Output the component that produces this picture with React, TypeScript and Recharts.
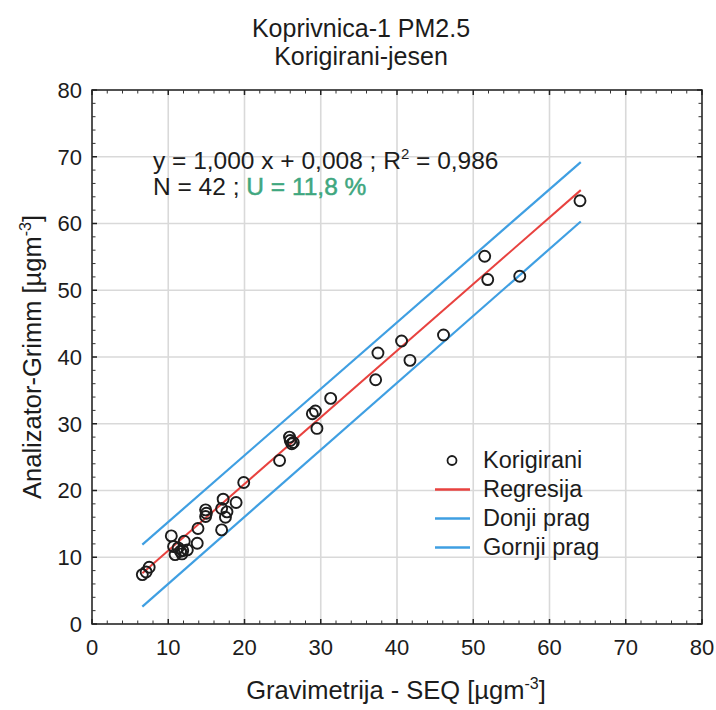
import React from 'react';
import {
  ComposedChart,
  Scatter,
  Line,
  XAxis,
  YAxis,
  CartesianGrid,
  ReferenceLine,
  ReferenceArea,
  Legend,
  Customized,
} from 'recharts';

// ---------- data ----------
const chartTitle = ['Koprivnica-1 PM2.5', 'Korigirani-jesen'];
const xAxisTitle = 'Gravimetrija - SEQ [µgm';
const yAxisTitle = 'Analizator-Grimm [µgm';
const unitExp = '-3';

const xTicks = [0, 10, 20, 30, 40, 50, 60, 70, 80];
const yTicks = [0, 10, 20, 30, 40, 50, 60, 70, 80];
const minorTicks = [2, 4, 6, 8, 12, 14, 16, 18, 22, 24, 26, 28, 32, 34, 36, 38, 42, 44, 46, 48, 52, 54, 56, 58, 62, 64, 66, 68, 72, 74, 76, 78];

const gravX = [64.0, 51.5, 51.9, 56.1, 46.1, 40.6, 37.5, 41.7, 37.2, 31.3, 28.9, 29.3, 29.5, 25.9, 26.0, 26.4, 26.2, 24.6, 19.9, 17.2, 18.9, 17.0, 17.7, 17.5, 17.0, 14.9, 15.0, 14.9, 13.9, 13.8, 10.4, 10.7, 12.1, 11.3, 10.9, 11.8, 12.5, 11.9, 11.6, 7.5, 6.6, 7.1];
const grimmY = [63.4, 55.1, 51.6, 52.1, 43.3, 42.4, 40.6, 39.5, 36.6, 33.8, 31.5, 31.9, 29.3, 28.0, 27.5, 27.2, 27.0, 24.5, 21.2, 18.7, 18.2, 17.3, 16.8, 16.0, 14.1, 17.1, 16.6, 16.1, 14.3, 12.1, 13.2, 11.6, 12.4, 11.4, 10.4, 10.5, 11.1, 11.0, 10.9, 8.5, 7.4, 7.8];

const lineX = [6.6, 64.1];
const regresijaY = [7.6, 65.0];
const donjiY = [2.6, 60.3];
const gornjiY = [11.9, 69.2];

const legendNames = ['Korigirani', 'Regresija', 'Donji prag', 'Gornji prag'];
const eqLine1 = 'y = 1,000 x + 0,008 ; R';
const eqLine1b = ' = 0,986';
const eqLine2a = 'N = 42 ; ';
const eqLine2b = 'U = 11,8 %';

// ---------- derived tables ----------
const points = gravX.map((x, i) => ({ x, y: grimmY[i] }));
const regData = lineX.map((x, i) => ({ x, reg: regresijaY[i] }));
const donjiData = lineX.map((x, i) => ({ x, donji: donjiY[i] }));
const gornjiData = lineX.map((x, i) => ({ x, gornji: gornjiY[i] }));

// ---------- styles ----------
const FONT = '"Liberation Sans", Arial, Helvetica, sans-serif';
const TEXT = '#1c1c1c';
const RED = '#e8423f';
const BLUE = '#3f9fe2';
const GRID = '#d9d9d9';
const W = 716;
const H = 710;
const Y_AXIS_W = 40;
const X_AXIS_H = 30;
const MARGIN = { top: 90, right: 14, bottom: 56, left: 52 };
const X_PX = (W - MARGIN.left - Y_AXIS_W - MARGIN.right) / 80;
const Y_PX = (H - MARGIN.top - MARGIN.bottom - X_AXIS_H) / 80;

const legendLineColors = ['', RED, BLUE, BLUE];

const renderLegend = () => (
  <div style={{ fontFamily: FONT, fontSize: 23.5, color: TEXT }}>
    {legendNames.map((name, i) => (
      <div key={name} style={{ display: 'flex', alignItems: 'center', height: 29, whiteSpace: 'nowrap' }}>
        <svg width={53} height={29} style={{ display: 'block' }}>
          {i === 0 ? (
            <circle cx={22} cy={14.5} r={4.5} fill="none" stroke={TEXT} strokeWidth={1.8} />
          ) : (
            <line x1={5} x2={40} y1={14.5} y2={14.5} stroke={legendLineColors[i]} strokeWidth={2.4} />
          )}
        </svg>
        <span>{name}</span>
      </div>
    ))}
  </div>
);

const OpenCircle = (props: any) => {
  const { cx, cy } = props;
  if (cx == null || cy == null) return null;
  return <circle cx={cx} cy={cy} r={5.5} fill="none" stroke={TEXT} strokeWidth={1.9} />;
};

const Texts = () => (
  <g fontFamily={FONT} fill={TEXT}>
    <text x={361} y={37} textAnchor="middle" fontSize={25}>{chartTitle[0]}</text>
    <text x={361} y={65} textAnchor="middle" fontSize={25}>{chartTitle[1]}</text>
    <text x={396} y={699} textAnchor="middle" fontSize={25.5}>
      {xAxisTitle}
      <tspan dy={-10} fontSize={16}>{unitExp}</tspan>
      <tspan dy={10}>]</tspan>
    </text>
    <text x={41} y={357} textAnchor="middle" fontSize={25.5} transform="rotate(-90 41 357)">
      {yAxisTitle}
      <tspan dy={-10} fontSize={16}>{unitExp}</tspan>
      <tspan dy={10}>]</tspan>
    </text>
    <text x={153} y={169} fontSize={24.5}>
      {eqLine1}
      <tspan dy={-10} fontSize={15}>2</tspan>
      <tspan dy={10}>{eqLine1b}</tspan>
    </text>
    <text x={153} y={195} fontSize={24.5}>
      {eqLine2a}
      <tspan fill="#3fa77f" stroke="#3fa77f" strokeWidth={0.5}>{eqLine2b}</tspan>
    </text>
  </g>
);

export default function App() {
  const tickFont = { fontFamily: FONT, fontSize: 22, fill: TEXT };
  const tx = 5 / X_PX;
  const ty = 5 / Y_PX;
  const mx = 3.5 / X_PX;
  const my = 3.5 / Y_PX;
  return (
    <div style={{ position: 'fixed', left: 0, top: 0, width: W, height: H, background: '#fff' }}>
      <ComposedChart width={W} height={H} margin={MARGIN}>
        <CartesianGrid stroke={GRID} strokeWidth={1.6} horizontalValues={yTicks} verticalValues={xTicks} />
        <XAxis
          type="number"
          dataKey="x"
          domain={[0, 80]}
          ticks={xTicks}
          allowDataOverflow
          height={X_AXIS_H}
          tickLine={false}
          axisLine={false}
          tickSize={0}
          tickMargin={15}
          tick={tickFont}
          interval={0}
        />
        <YAxis
          type="number"
          domain={[0, 80]}
          ticks={yTicks}
          allowDataOverflow
          width={Y_AXIS_W}
          tickLine={false}
          axisLine={false}
          tickSize={0}
          tickMargin={10}
          tick={tickFont}
          interval={0}
        />
        <ReferenceArea x1={0} x2={80} y1={0} y2={80} fill="none" stroke="#222" strokeWidth={1.5} fillOpacity={0} />
        {minorTicks.map((v) => (
          <ReferenceLine key={'mb' + v} segment={[{ x: v, y: 0 }, { x: v, y: my }]} stroke="#333" strokeWidth={1} />
        ))}
        {minorTicks.map((v) => (
          <ReferenceLine key={'mt' + v} segment={[{ x: v, y: 80 }, { x: v, y: 80 - my }]} stroke="#333" strokeWidth={1} />
        ))}
        {minorTicks.map((v) => (
          <ReferenceLine key={'ml' + v} segment={[{ x: 0, y: v }, { x: mx, y: v }]} stroke="#333" strokeWidth={1} />
        ))}
        {minorTicks.map((v) => (
          <ReferenceLine key={'mr' + v} segment={[{ x: 80, y: v }, { x: 80 - mx, y: v }]} stroke="#333" strokeWidth={1} />
        ))}
        {xTicks.map((v) => (
          <ReferenceLine key={'Mb' + v} segment={[{ x: v, y: 0 }, { x: v, y: ty }]} stroke="#222" strokeWidth={1.5} />
        ))}
        {xTicks.map((v) => (
          <ReferenceLine key={'Mt' + v} segment={[{ x: v, y: 80 }, { x: v, y: 80 - ty }]} stroke="#222" strokeWidth={1.5} />
        ))}
        {yTicks.map((v) => (
          <ReferenceLine key={'Ml' + v} segment={[{ x: 0, y: v }, { x: tx, y: v }]} stroke="#222" strokeWidth={1.5} />
        ))}
        {yTicks.map((v) => (
          <ReferenceLine key={'Mr' + v} segment={[{ x: 80, y: v }, { x: 80 - tx, y: v }]} stroke="#222" strokeWidth={1.5} />
        ))}
        <Line data={gornjiData} dataKey="gornji" name="Gornji prag" stroke={BLUE} strokeWidth={2.2} dot={false} isAnimationActive={false} legendType="line" />
        <Line data={donjiData} dataKey="donji" name="Donji prag" stroke={BLUE} strokeWidth={2.2} dot={false} isAnimationActive={false} legendType="line" />
        <Line data={regData} dataKey="reg" name="Regresija" stroke={RED} strokeWidth={2} dot={false} isAnimationActive={false} legendType="line" />
        <Scatter data={points} dataKey="y" name="Korigirani" shape={<OpenCircle />} isAnimationActive={false} />
        <Legend
          layout="vertical"
          align="center"
          verticalAlign="middle"
          content={renderLegend}
          wrapperStyle={{ position: 'absolute', left: 430, top: 446, width: 'auto', height: 'auto' }}
        />
        <Customized component={<Texts />} />
      </ComposedChart>
    </div>
  );
}
